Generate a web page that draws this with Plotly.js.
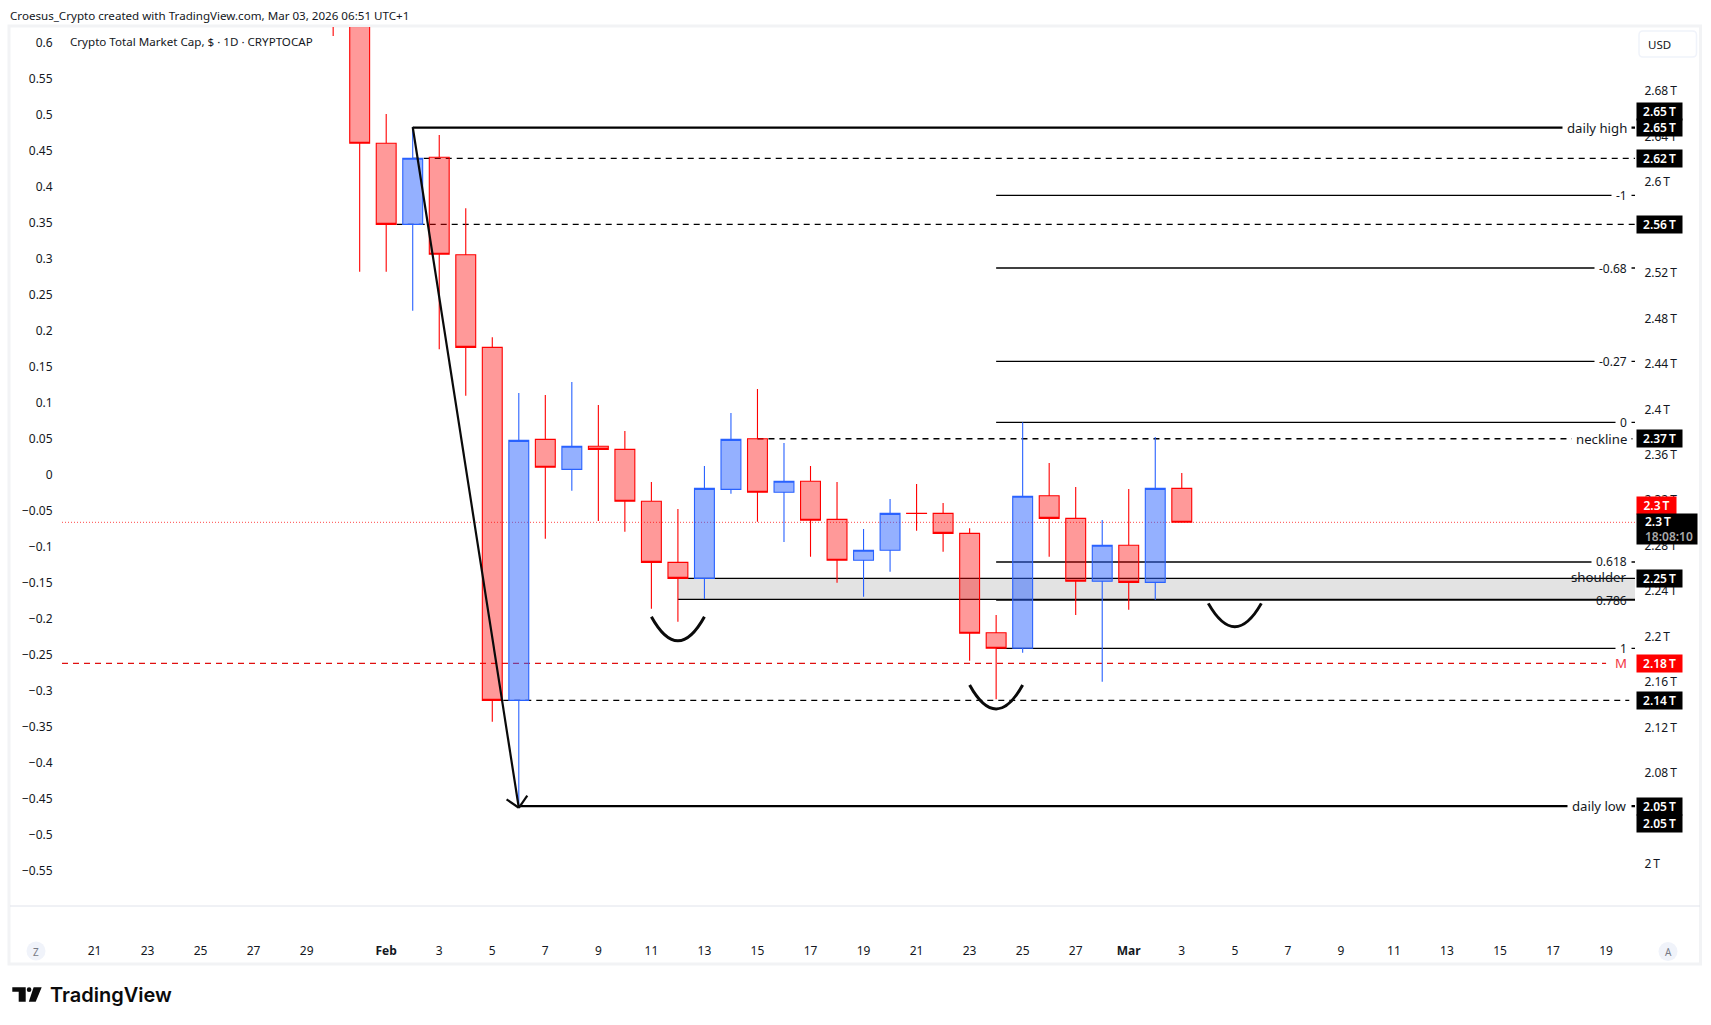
<!DOCTYPE html>
<html>
<head>
<meta charset="utf-8">
<script src="https://cdn.plot.ly/plotly-3.0.1.min.js"></script>
<style>html,body{margin:0;padding:0;background:#fff;overflow:hidden}</style>
</head>
<body>
<div id="chart" style="width:1711px;height:1025px"></div>
<script>
// ---------- candles (values in trillions of USD) ----------
const dates = ["2026-01-30","2026-01-31","2026-02-01","2026-02-02","2026-02-03","2026-02-04","2026-02-05","2026-02-06","2026-02-07","2026-02-08","2026-02-09","2026-02-10","2026-02-11","2026-02-12","2026-02-13","2026-02-14","2026-02-15","2026-02-16","2026-02-17","2026-02-18","2026-02-19","2026-02-20","2026-02-21","2026-02-22","2026-02-23","2026-02-24","2026-02-25","2026-02-26","2026-02-27","2026-02-28","2026-03-01","2026-03-02","2026-03-03"];
const opens  = [2.86,2.78,2.6340,2.5627,2.6217,2.5360,2.4545,2.1440,2.3736,2.3472,2.3675,2.3648,2.3191,2.2654,2.2513,2.3296,2.3741,2.3270,2.3367,2.3032,2.2672,2.2760,2.3086,2.3085,2.2909,2.2035,2.1898,2.3240,2.3041,2.2487,2.2804,2.2478,2.3305];
const highs  = [2.90,2.82,2.6598,2.6483,2.6413,2.5768,2.4633,2.4143,2.4126,2.4240,2.4038,2.3809,2.3360,2.3123,2.3501,2.3968,2.4179,2.3704,2.3501,2.3360,2.2947,2.3211,2.3343,2.3176,2.2953,2.2191,2.3886,2.3528,2.3317,2.3026,2.3299,2.3756,2.3440];
const lows   = [2.7284,2.5210,2.5210,2.4867,2.4528,2.4120,2.1252,2.0504,2.2862,2.3284,2.3018,2.2923,2.2246,2.2132,2.2331,2.3258,2.3011,2.2833,2.2703,2.2475,2.2352,2.2572,2.2932,2.2747,2.1789,2.1449,2.1859,2.2703,2.2191,2.1604,2.2237,2.2325,2.3006];
const closes = [2.78,2.6340,2.5627,2.6208,2.5364,2.4545,2.1440,2.3727,2.3490,2.3675,2.3648,2.3191,2.2654,2.2513,2.3305,2.3736,2.3270,2.3367,2.3024,2.2672,2.2760,2.3085,2.3084,2.2909,2.2030,2.1898,2.3235,2.3041,2.2487,2.2804,2.2478,2.3305,2.3006];

// ---------- axes ----------
const priceTicks  = [2.68,2.64,2.6,2.56,2.52,2.48,2.44,2.4,2.36,2.32,2.28,2.24,2.2,2.16,2.12,2.08,2.04,2];
const priceLabels = ["2.68\u2009T","2.64\u2009T","2.6\u2009T","2.56\u2009T","2.52\u2009T","2.48\u2009T","2.44\u2009T","2.4\u2009T","2.36\u2009T","2.32\u2009T","2.28\u2009T","2.24\u2009T","2.2\u2009T","2.16\u2009T","2.12\u2009T","2.08\u2009T","2.04\u2009T","2\u2009T"];
const ratioTicks  = [0.6,0.55,0.5,0.45,0.4,0.35,0.3,0.25,0.2,0.15,0.1,0.05,0,-0.05,-0.1,-0.15,-0.2,-0.25,-0.3,-0.35,-0.4,-0.45,-0.5,-0.55];
const ratioLabels = ["0.6","0.55","0.5","0.45","0.4","0.35","0.3","0.25","0.2","0.15","0.1","0.05","0","\u22120.05","\u22120.1","\u22120.15","\u22120.2","\u22120.25","\u22120.3","\u22120.35","\u22120.4","\u22120.45","\u22120.5","\u22120.55"];
const timeTicks  = ["2026-01-21","2026-01-23","2026-01-25","2026-01-27","2026-01-29","2026-02-01","2026-02-03","2026-02-05","2026-02-07","2026-02-09","2026-02-11","2026-02-13","2026-02-15","2026-02-17","2026-02-19","2026-02-21","2026-02-23","2026-02-25","2026-02-27","2026-03-01","2026-03-03","2026-03-05","2026-03-07","2026-03-09","2026-03-11","2026-03-13","2026-03-15","2026-03-17","2026-03-19"];
const timeLabels = ["21","23","25","27","29","<b>Feb</b>","3","5","7","9","11","13","15","17","19","21","23","25","27","<b>Mar</b>","3","5","7","9","11","13","15","17","19"];
const timeRange  = ["2026-01-19 18:36","2026-03-20 02:10"];
const priceRange = [1.9631,2.7363];
const ratioRange = [-0.5986,0.6222];

// ---------- drawn levels ----------
const thickValues = [2.6477,2.0510];
const thickStarts = ["2026-02-02","2026-02-06"];
const thickNames  = ["daily high","daily low"];

const dashValues = [2.6208,2.5627,2.3741,2.1440];
const dashStarts = ["2026-02-02","2026-02-01 09:30","2026-02-15","2026-02-05"];
const dashEnds   = ["2026-03-20 02:10","2026-03-20 02:10","2026-03-20 02:10","2026-03-19 21:00"];

const fibNames  = ["-1","-0.68","-0.27","0","0.618","0.786","1"];
const fibValues = [2.5882,2.5243,2.4422,2.3886,2.2657,2.2322,2.1898];
const fibStart  = "2026-02-24";

const zoneTop = 2.2513, zoneBottom = 2.2328, zoneStart = "2026-02-12";
const midValue = 2.1766, midEnd = "2026-03-19";
const lastValue = 2.3006;

const trendFrom = ["2026-02-02",2.6483];
const trendTo   = ["2026-02-06",2.0495];
const headLeft  = ["2026-02-05 12:57",2.0569];
const headRight = ["2026-02-06 07:41",2.0601];

const arcStarts = ["2026-02-11","2026-02-23","2026-03-04"];
const arcMids   = ["2026-02-12","2026-02-24","2026-03-05"];
const arcEnds   = ["2026-02-13","2026-02-25","2026-03-06"];
const arcTops   = [2.2176,2.1575,2.2293];
const arcPulls  = [2.1753,2.1153,2.1883];

const blackTagTexts = ["2.65\u2009T","2.65\u2009T","2.62\u2009T","2.56\u2009T","2.37\u2009T","2.25\u2009T","2.14\u2009T","2.05\u2009T","2.05\u2009T"];
const blackTagValues = [2.6620,2.6477,2.6208,2.5627,2.3741,2.2513,2.1440,2.0510,2.0357];
const redTagTexts = ["2.3\u2009T","2.18\u2009T"];
const redTagValues = [2.3156,2.1766];

// ---------- page geometry helpers (frame decoration only) ----------
const W=1711,H=1025,L=62,R=1635,T=27,B=906;
const px=x=>(x-L)/(R-L), py=y=>1-(y-T)/(B-T);
const FONT='"Noto Sans", sans-serif', INK='#131722';
const plotEnd=timeRange[1];

const shapes=[];
const hline=(x0,x1,y,color,width,dash,layer)=>shapes.push({type:'line',xref:'x',yref:'y',x0,x1,y0:y,y1:y,layer:layer||'below',line:{color,width,dash:dash||'solid'}});
const DASH='6px,5px';

shapes.push({type:'rect',xref:'x',yref:'y',x0:zoneStart,x1:plotEnd,y0:zoneBottom,y1:zoneTop,layer:'below',fillcolor:'#e3e3e3',line:{width:0}});
hline(zoneStart,plotEnd,zoneTop,'#000',1.3);
hline(zoneStart,plotEnd,zoneBottom,'#000',1.3);
fibValues.forEach(v=>hline(fibStart,plotEnd,v,'#000',1.3));
dashValues.forEach((v,i)=>hline(dashStarts[i],dashEnds[i],v,'#000',1.3,DASH));
thickValues.forEach((v,i)=>hline(thickStarts[i],plotEnd,v,'#000',2.2));
hline(timeRange[0],midEnd,midValue,'#e01010',1.3,DASH);
hline(timeRange[0],timeRange[1],lastValue,'rgba(255,40,40,0.85)',1,'1px,2px');

const seg=(a,b,w)=>shapes.push({type:'line',xref:'x',yref:'y',x0:a[0],y0:a[1],x1:b[0],y1:b[1],layer:'above',line:{color:'#0a0a0a',width:w}});
seg(trendFrom,trendTo,2.2); seg(headLeft,trendTo,2.2); seg(headRight,trendTo,2.2);
arcStarts.forEach((s,i)=>shapes.push({type:'path',xref:'x',yref:'y',layer:'above',
  path:`M ${s} ${arcTops[i]} Q ${arcMids[i]} ${arcPulls[i]} ${arcEnds[i]} ${arcTops[i]}`,line:{color:'#0a0a0a',width:3}}));

// frame, buttons, logo
shapes.push({type:'rect',xref:'paper',yref:'paper',x0:px(9),x1:px(1700.5),y0:py(964),y1:py(26),line:{color:'#f2f3f5',width:3},layer:'below'});
shapes.push({type:'line',xref:'paper',yref:'paper',x0:px(10),x1:px(1700),y0:py(906),y1:py(906),line:{color:'#e0e3eb',width:1},layer:'below'});
const pathOf=(pts)=>'M '+pts.map(p=>px(p[0])+' '+py(p[1])).join(' L ')+' Z';
const rr=(x0,y0,x1,y1,r)=>`M ${px(x0+r)} ${py(y0)} L ${px(x1-r)} ${py(y0)} Q ${px(x1)} ${py(y0)} ${px(x1)} ${py(y0+r)} L ${px(x1)} ${py(y1-r)} Q ${px(x1)} ${py(y1)} ${px(x1-r)} ${py(y1)} L ${px(x0+r)} ${py(y1)} Q ${px(x0)} ${py(y1)} ${px(x0)} ${py(y1-r)} L ${px(x0)} ${py(y0+r)} Q ${px(x0)} ${py(y0)} ${px(x0+r)} ${py(y0)} Z`;
shapes.push({type:'path',xref:'paper',yref:'paper',path:rr(1639,31,1696.5,57,4),line:{color:'#f0f3fa',width:1.5},fillcolor:'#fff',layer:'above'});
[[36,951],[1668,951.5]].forEach(c=>shapes.push({type:'circle',xref:'paper',yref:'paper',x0:px(c[0]-9.5),x1:px(c[0]+9.5),y0:py(c[1]+9.5),y1:py(c[1]-9.5),fillcolor:'#f0f3fa',line:{width:0},layer:'below'}));
shapes.push({type:'path',xref:'paper',yref:'paper',fillcolor:'#0b0b0b',line:{width:0},path:pathOf([[12.3,987.3],[25.7,987.3],[25.7,1001.7],[18.7,1001.7],[18.7,991.7],[12.3,991.7]])});
shapes.push({type:'path',xref:'paper',yref:'paper',fillcolor:'#0b0b0b',line:{width:0},path:pathOf([[33.6,987.3],[41.7,987.3],[35.7,1001.7],[28.8,1001.7]])});
shapes.push({type:'circle',xref:'paper',yref:'paper',fillcolor:'#0b0b0b',line:{width:0},x0:px(26.8),x1:px(31.4),y0:py(992),y1:py(987.3)});

// ---------- text ----------
const ann=[];
const pageText=(text,x,y,size,color,anchor)=>ann.push({xref:'paper',yref:'paper',x:px(x),y:py(y),xanchor:anchor||'left',yanchor:'middle',showarrow:false,text,borderpad:0,font:{family:FONT,size,color}});
pageText('Croesus_Crypto created with TradingView.com, Mar 03, 2026 06:51 UTC+1',9,15.5,11.6,INK);
pageText('Crypto Total Market Cap, $ \u00b7 1D \u00b7 CRYPTOCAP',69,41.5,11.6,INK);
pageText('USD',1647,44.5,11.5,INK);
pageText('Z',36,951.5,10,'#787b86','center');
pageText('A',1668,952,10,'#787b86','center');
ann.push({xref:'paper',yref:'paper',x:px(49),y:py(994.5),xanchor:'left',yanchor:'middle',showarrow:false,text:'TradingView',borderpad:0,font:{family:'Inter, sans-serif',size:20,color:'#0b0b0b',weight:600}});

const lineLabel=(text,value,size,knock,color)=>ann.push({xref:'paper',yref:'y',x:1,y:value,xanchor:'right',yanchor:'middle',xshift:knock?-3:-7,showarrow:false,text,
  bgcolor:knock?'#fff':'rgba(0,0,0,0)',borderpad:knock?4:0,font:{family:FONT,size,color:color||INK}});
thickNames.forEach((n,i)=>lineLabel(n,thickValues[i],13.2,true));
lineLabel('neckline',dashValues[2],13.2,true);
fibNames.forEach((n,i)=>lineLabel(n,fibValues[i],12,n!=='0.786'));
lineLabel('shoulder',zoneTop+0.001,13.2,false);
lineLabel('M',midValue,13.2,false,'#f23645');

const tag=(text,value,bg,w,h,align)=>ann.push({xref:'paper',yref:'y',x:1,y:value,xanchor:'left',yanchor:'middle',xshift:1,showarrow:false,text,width:w,height:h,bgcolor:bg,borderpad:0,align:align||'center',font:{family:FONT,size:12,color:'#fff',weight:600}});
blackTagTexts.forEach((t,i)=>tag(t,blackTagValues[i],'#000',45,17));
redTagTexts.forEach((t,i)=>tag(t,redTagValues[i],'#ff0000',i?45:39,17));
tag('\u2002\u20092.3\u2009T<br>\u2002\u2009<span style="color:#a9a9a9">18:08:10</span>',2.2947,'#000',60,30,'left');

// ---------- traces ----------
const candles={type:'candlestick',x:dates,open:opens,high:highs,low:lows,close:closes,xaxis:'x',yaxis:'y',whiskerwidth:0,hoverinfo:'skip',showlegend:false,
  increasing:{line:{color:'#2962ff',width:1.1},fillcolor:'rgba(41,98,255,0.5)'},
  decreasing:{line:{color:'#ff0000',width:1.1},fillcolor:'rgba(255,0,0,0.4)'}};
const ratioHolder={type:'scatter',mode:'markers',x:ratioTicks.map(()=>dates[0]),y:ratioTicks,xaxis:'x',yaxis:'y2',marker:{opacity:0,size:1},hoverinfo:'skip',showlegend:false};

const tickFont={family:FONT,size:12,color:INK};
const layout={
  width:W,height:H,autosize:false,paper_bgcolor:'#fff',plot_bgcolor:'rgba(0,0,0,0)',showlegend:false,
  margin:{l:L,r:W-R,t:T,b:H-B,pad:0},boxgap:0.25,boxgroupgap:0,
  xaxis:{type:'date',range:timeRange,tickmode:'array',tickvals:timeTicks,ticktext:timeLabels,tickangle:0,tickfont:tickFont,ticks:'outside',ticklen:34,tickcolor:'rgba(0,0,0,0)',showgrid:false,zeroline:false,showline:false,fixedrange:true,rangeslider:{visible:false}},
  yaxis:{side:'right',range:priceRange,tickmode:'array',tickvals:priceTicks,ticktext:priceLabels,tickfont:tickFont,ticks:'outside',ticklen:6,tickcolor:'rgba(0,0,0,0)',showgrid:false,zeroline:false,showline:false,fixedrange:true},
  yaxis2:{side:'left',overlaying:'y',range:ratioRange,tickmode:'array',tickvals:ratioTicks,ticktext:ratioLabels,tickfont:tickFont,ticks:'outside',ticklen:6,tickcolor:'rgba(0,0,0,0)',showgrid:false,zeroline:false,showline:false,fixedrange:true},
  shapes,annotations:ann
};
Plotly.newPlot('chart',[candles,ratioHolder],layout,{displayModeBar:false,staticPlot:true});
</script>
</body>
</html>
